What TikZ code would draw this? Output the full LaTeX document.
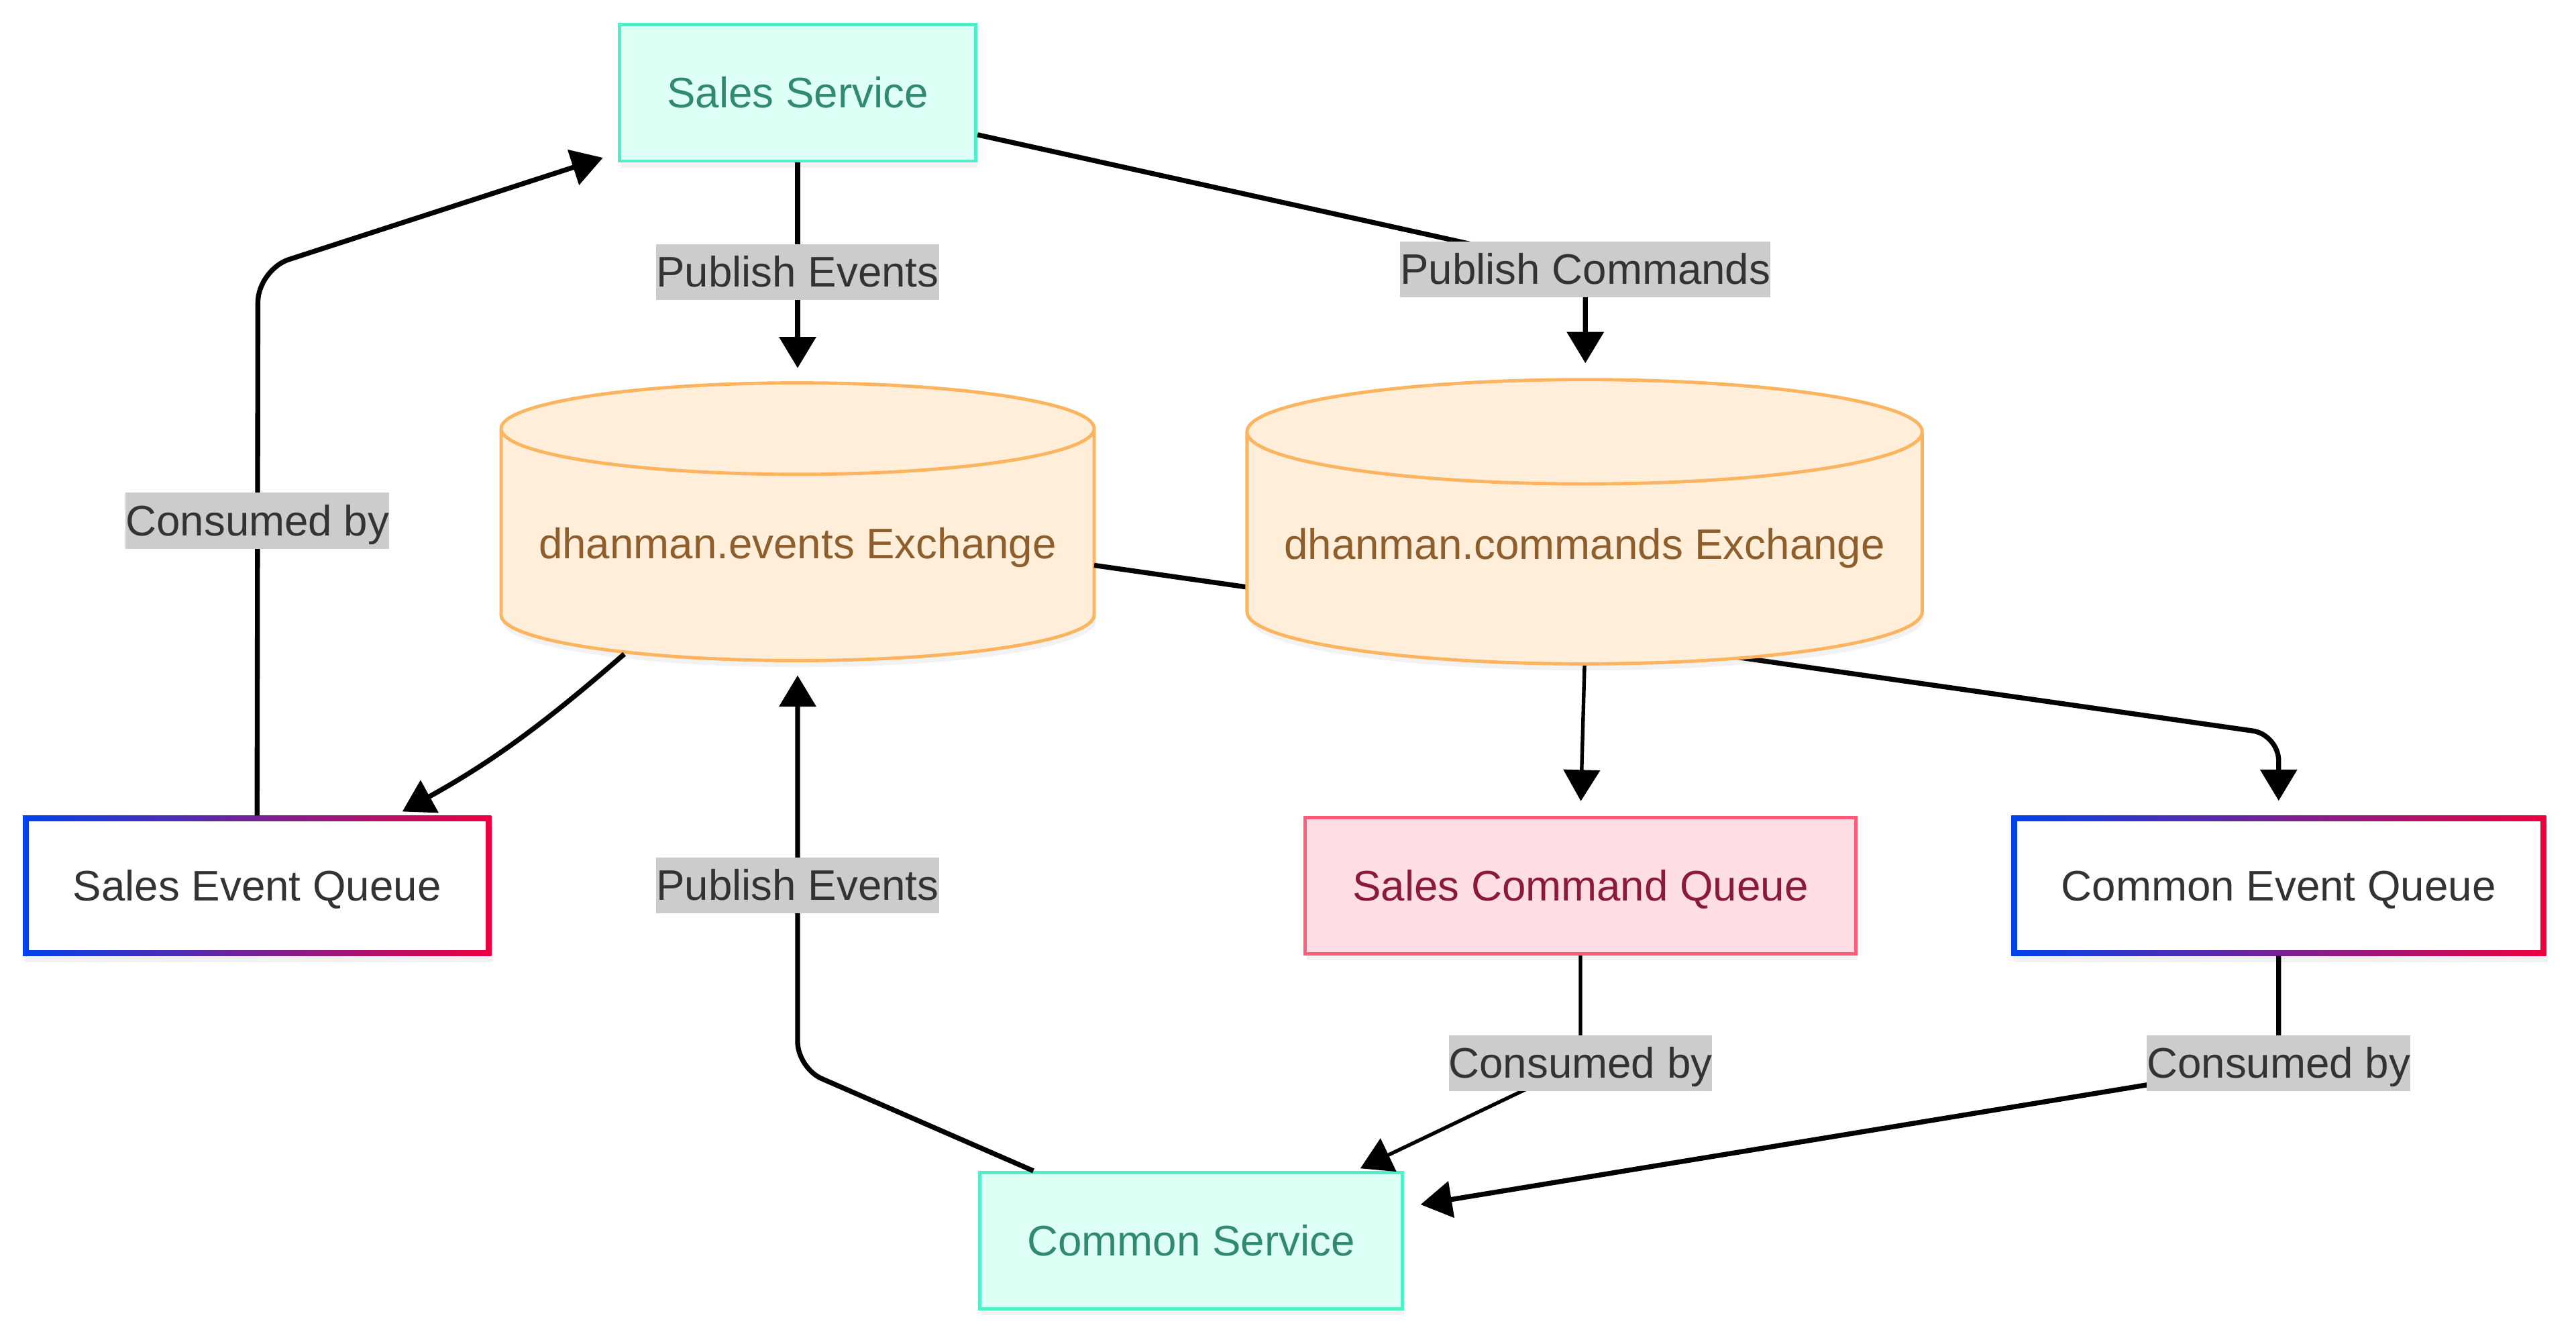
\documentclass[tikz,border=0pt]{standalone}
\usepackage{fontspec}
\setmainfont{Liberation Sans}
\usepackage{tikz}
\usetikzlibrary{shadows,arrows.meta,shapes.geometric}

\definecolor{svcfill}{HTML}{DDFFF6}
\definecolor{svcdraw}{HTML}{50EFCA}
\definecolor{svctext}{HTML}{2F8A6E}
\definecolor{exfill}{HTML}{FFEFDA}
\definecolor{exdraw}{HTML}{FDB45E}
\definecolor{extext}{HTML}{8E5E2C}
\definecolor{cmdfill}{HTML}{FFDDE4}
\definecolor{cmddraw}{HTML}{FF5C7A}
\definecolor{cmdtext}{HTML}{8B1A38}
\definecolor{gradblue}{HTML}{0042EE}
\definecolor{gradred}{HTML}{EE0040}
\definecolor{lblgray}{HTML}{CCCCCC}
\definecolor{darktext}{HTML}{333333}

\begin{document}
\begin{tikzpicture}[x=1pt, y=1pt, font=\fontsize{26pt}{30pt}\selectfont]

\tikzstyle{soft_shadow} = [drop shadow={shadow xshift=1pt, shadow yshift=-4pt, opacity=0.10}]
\tikzstyle{service_box} = [rectangle, draw=svcdraw, fill=svcfill, line width=2pt, text=svctext, inner xsep=29pt, inner ysep=0pt, minimum height=83pt, text height=21.5pt, text depth=3.5pt, soft_shadow]
\tikzstyle{queue_cmd} = [rectangle, draw=cmddraw, fill=cmdfill, line width=2pt, text=cmdtext, inner xsep=29pt, inner ysep=0pt, minimum height=83pt, text height=21.5pt, text depth=3.5pt, soft_shadow]
\tikzstyle{queue_grad} = [rectangle, left color=gradblue, right color=gradred, text=darktext, inner xsep=30.5pt, inner ysep=0pt, minimum height=85pt, text height=21.5pt, text depth=3.5pt, soft_shadow,
  path picture={\fill[white] ([shift={(3.5pt,3.5pt)}]path picture bounding box.south west) rectangle ([shift={(-3.5pt,-3.5pt)}]path picture bounding box.north east);}]
\tikzstyle{exchange_db} = [cylinder, shape border rotate=90, aspect=0.155, anchor=shape center, draw=exdraw, fill=exfill, line width=2pt, text=extext, inner xsep=22pt, soft_shadow]
\tikzstyle{edge_label} = [fill=lblgray, sharp corners, text=darktext, inner xsep=0pt, inner ysep=4.5pt, text height=21.5pt, text depth=3.5pt]
\tikzstyle{flow} = [-{Triangle[length=19pt,width=22pt]}, line width=3pt]
\tikzstyle{flow_thin} = [-{Triangle[length=19pt,width=22pt]}, line width=2.2pt]

\fill[white] (0,-4.2) rectangle (1568,810);
\useasboundingbox (0,-4.2) rectangle (1568,810);

%------------------------------------------------------------
	\node[service_box] (sales) at (485.5,753.5) {Sales Service};
	\node[exchange_db, minimum width=361pt, minimum height=169pt, text height=14pt, text depth=11pt] (evx) at (485.5,492.5) {dhanman.events Exchange};

	\node[queue_grad] (seq) at (156.5,271) {Sales Event Queue};
	\node[queue_cmd] (scq) at (962,271) {Sales Command Queue};
	\node[queue_grad] (ceq) at (1387,271) {Common Event Queue};

	\node[service_box] (common) at (725,55) {Common Service};

%------------------------------------------------------------
	% runs behind the commands exchange
	\coordinate (bend_ceq) at (1387,363);
	\draw[flow, rounded corners=16pt, shorten >=9pt] ([xshift=180.5pt,yshift=-26.5pt]evx.shape center) -- (bend_ceq) -- (ceq.north);

	\node[exchange_db, minimum width=411pt, minimum height=173pt, text height=12pt, text depth=13pt] (cmdx) at (964.5,492.5) {dhanman.commands Exchange};

%------------------------------------------------------------
	\coordinate (lbl_cmd) at (965,646);
	\coordinate (bend_seq) at (157,646);
	\coordinate (bend_common) at (485.5,160);
	\coordinate (lbl_scq) at (962,163);
	\coordinate (lbl_ceq) at (1387,163);

	\draw[flow, shorten >=8pt] (sales.south) -- node[edge_label] {Publish Events} (evx.north);
	\draw[flow, shorten >=9pt] ([yshift=-25.5pt]sales.east) -- (lbl_cmd) node[edge_label] {Publish Commands} -- (lbl_cmd |- cmdx.north);

	\draw[flow, shorten >=5pt] ([xshift=-105.5pt,yshift=-80.5pt]evx.shape center) to[out=-139,in=29] ([xshift=84pt]seq.north);
	\draw[flow, rounded corners=20pt] (seq.north) -- node[edge_label, pos=0.54] {Consumed by} (bend_seq) -- ([xshift=-9pt,yshift=3pt]sales.south west);

	\draw[flow, rounded corners=16pt, shorten >=8pt] ([xshift=-96pt]common.north) -- (bend_common) -- node[edge_label, pos=0.45] {Publish Events} (evx.south);

	\draw[flow_thin, shorten >=9pt] (cmdx.south) -- (scq.north);
	\draw[flow_thin] (scq.south) -- (lbl_scq) node[edge_label] {Consumed by} -- ([xshift=103pt,yshift=1.5pt]common.north);
	\draw[flow] (ceq.south) -- (lbl_ceq) node[edge_label] {Consumed by} -- ([xshift=10pt,yshift=22pt]common.east);

\end{tikzpicture}
\end{document}
